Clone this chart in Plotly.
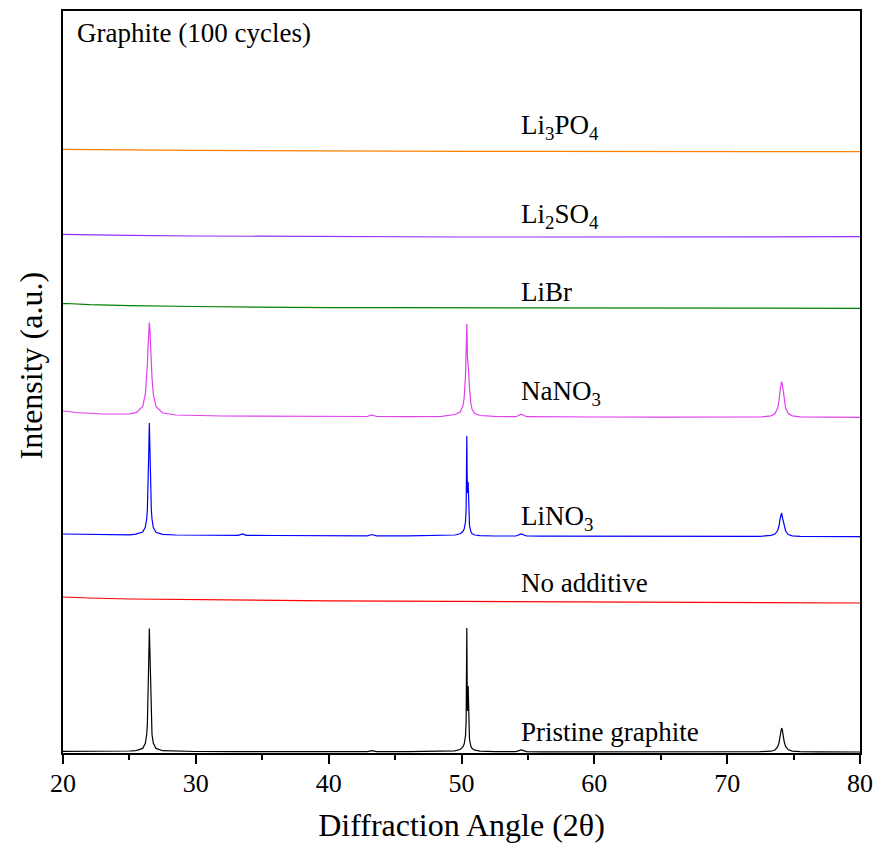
import plotly.graph_objects as go

# ---- XRD patterns of graphite electrodes after 100 cycles (stacked, a.u.) ----

# Pristine graphite
pristine_2theta = [20, 22, 24, 25.0, 25.5, 26.0, 26.2, 26.3, 26.35, 26.4, 26.45, 26.5, 26.55, 26.6,
                   26.65, 26.7, 26.8, 27.0, 27.5, 28.5, 30, 33, 36, 40, 42.9, 43.25, 43.6, 46, 48.5,
                   49.5, 49.9, 50.1, 50.2, 50.3, 50.35, 50.38, 50.4, 50.42, 50.45, 50.48, 50.5, 50.52,
                   50.55, 50.6, 50.7, 50.8, 51.0, 51.4, 52.5, 54.1, 54.5, 54.9, 56, 60, 65, 70, 72.5,
                   73.3, 73.6, 73.8, 73.9, 74.0, 74.05, 74.1, 74.15, 74.2, 74.3, 74.4, 74.6, 74.9,
                   75.5, 77, 80]
pristine_int = [1.6, 1.6, 1.7, 2.0, 2.4, 4.6, 9.7, 18.5, 28.5, 49.5, 89.5, 124.5, 89.5, 49.5,
                28.5, 18.5, 9.7, 4.6, 2.3, 1.7, 1.5, 1.4, 1.3, 1.3, 1.3, 2.3, 1.3, 1.3, 1.5,
                2.2, 3.5, 6.0, 9.0, 17, 32, 70, 125, 78, 42, 48, 67, 50,
                28, 14, 7.0, 4.5, 2.8, 1.9, 1.4, 1.4, 3.0, 1.4, 1.2, 1.1, 1.1, 1.1, 1.4,
                1.8, 3.0, 6.0, 10, 18, 23, 25, 23, 18, 11, 6.5, 3.2, 1.9,
                1.3, 1.1, 1.0]

# LiNO3 additive
lino3_2theta = [20, 22, 24, 25.0, 25.5, 26.0, 26.2, 26.3, 26.35, 26.4, 26.45, 26.5, 26.55, 26.6,
                26.65, 26.7, 26.8, 27.0, 27.5, 28.5, 30, 33.2, 33.5, 33.8, 36, 40, 42.9, 43.25,
                43.6, 46, 48.5, 49.5, 49.9, 50.1, 50.2, 50.3, 50.35, 50.38, 50.4, 50.42, 50.45,
                50.48, 50.5, 50.52, 50.55, 50.6, 50.7, 50.8, 51.0, 51.4, 52.5, 54.1, 54.5, 54.9,
                56, 60, 65, 70, 72.5, 73.3, 73.6, 73.8, 73.9, 74.0, 74.05, 74.1, 74.15, 74.2,
                74.25, 74.3, 74.4, 74.6, 74.9, 75.5, 77, 80]
lino3_int = [4.0, 3.6, 3.3, 3.2, 3.9, 6.0, 11, 19, 28, 47, 82, 115, 82, 47,
             28, 19, 10.5, 5.8, 3.7, 3.0, 2.8, 2.6, 4.0, 2.6, 2.5, 2.3, 2.2, 3.5,
             2.2, 2.1, 2.4, 3.0, 4.2, 6.5, 9.0, 16, 30, 60, 102, 70, 45,
             48, 56, 44, 26, 13, 6.5, 4.3, 3.0, 2.3, 2.0, 2.0, 4.0, 2.0,
             1.8, 1.6, 1.5, 1.4, 1.7, 2.6, 4.0, 7.5, 12, 20, 23.5, 25, 21, 18,
             17, 13, 7.0, 3.4, 2.1, 1.6, 1.4, 1.3]

# NaNO3 additive
nano3_2theta = [20, 21, 23, 25.0, 25.5, 26.0, 26.2, 26.3, 26.35, 26.4, 26.45, 26.5, 26.55, 26.6,
                26.65, 26.7, 26.8, 27.0, 27.5, 28.5, 32, 36, 40, 42.9, 43.25, 43.6, 46, 48.5,
                49.5, 49.9, 50.1, 50.2, 50.3, 50.35, 50.38, 50.4, 50.42, 50.45, 50.48, 50.5, 50.52,
                50.55, 50.6, 50.7, 50.8, 51.0, 51.4, 52.5, 54.1, 54.5, 54.9, 56, 60, 65, 70, 72.5,
                73.3, 73.6, 73.8, 73.9, 74.0, 74.05, 74.1, 74.15, 74.2, 74.25, 74.3, 74.4, 74.6,
                74.9, 75.5, 77, 80]
nano3_int = [7.0, 5.5, 4.0, 4.1, 5.3, 11.6, 24, 40, 53, 70, 87, 95.5, 87, 70,
             53, 40, 24, 11.5, 5.0, 3.0, 2.0, 1.8, 1.6, 1.5, 3.0, 1.5, 1.4, 1.6,
             3.5, 6.0, 12, 20, 42, 62, 80, 94, 82, 60, 49, 53, 52,
             44, 30, 15, 8.5, 4.5, 2.5, 1.6, 1.3, 3.8, 1.3, 1.1, 1.0, 0.9, 0.8, 1.0,
             2.2, 4.5, 10, 17, 29, 34, 36.3, 34, 29, 24, 18, 10, 4.5,
             2.2, 1.2, 0.8, 0.7]

# Featureless patterns (no additive, LiBr, Li2SO4, Li3PO4)
flat_2theta = [20, 20.3, 22, 25, 30, 35, 40, 45, 50, 55, 60, 70, 80]
no_additive_int = [8.0, 7.8, 7.0, 6.0, 5.2, 4.6, 4.2, 3.9, 3.6, 3.2, 2.9, 2.4, 2.0]
libr_int = [6.3, 6.5, 5.3, 4.3, 3.5, 2.8, 2.3, 2.3, 2.3, 2.2, 2.1, 1.9, 1.7]
li2so4_int = [3.7, 3.6, 3.2, 2.6, 2.0, 1.6, 1.3, 1.1, 1.0, 1.0, 1.1, 1.2, 1.3]
li3po4_int = [3.7, 3.7, 3.5, 3.1, 2.6, 2.2, 2.0, 1.8, 1.7, 1.6, 1.5, 1.4, 1.3]

# Sample names (bottom to top), vertical stacking offsets and colours
samples = ["Pristine graphite", "No additive", "LiNO<sub>3</sub>", "NaNO<sub>3</sub>",
           "LiBr", "Li<sub>2</sub>SO<sub>4</sub>", "Li<sub>3</sub>PO<sub>4</sub>"]
offsets = [0, 148, 215, 335, 443, 515, 600]
label_heights = [21, 170, 235, 360, 461, 537, 626]
colors = ["#000000", "#ff0000", "#0000ff", "#e040f0", "#008000", "#9030ff", "#ff8000"]

patterns = [
    (pristine_2theta, pristine_int),
    (flat_2theta, no_additive_int),
    (lino3_2theta, lino3_int),
    (nano3_2theta, nano3_int),
    (flat_2theta, libr_int),
    (flat_2theta, li2so4_int),
    (flat_2theta, li3po4_int),
]

FONT = "Liberation Serif"

fig = go.Figure()
for (tt, inten), off, col, name in zip(patterns, offsets, colors, samples):
    fig.add_trace(go.Scatter(
        x=tt, y=[v + off for v in inten], mode="lines",
        line=dict(color=col, width=1.2), name=name, showlegend=False,
    ))

annotations = [dict(x=20.9, y=720, xref="x", yref="y", text="Graphite (100 cycles)",
                    showarrow=False, xanchor="left", yanchor="middle",
                    font=dict(family=FONT, size=27, color="black"))]
for name, h in zip(samples, label_heights):
    annotations.append(dict(x=54.3, y=h, xref="x", yref="y", text=name, showarrow=False,
                            xanchor="left", yanchor="middle",
                            font=dict(family=FONT, size=27, color="black")))
# vertical axis title
annotations.append(dict(x=-0.0405, y=0.522, xref="paper", yref="paper",
                        text="Intensity (a.u.)", textangle=-90, showarrow=False,
                        xanchor="center", yanchor="middle",
                        font=dict(family=FONT, size=32, color="black")))

fig.update_layout(
    width=876, height=843,
    margin=dict(l=63, r=16, t=11, b=90, autoexpand=False),
    paper_bgcolor="white", plot_bgcolor="white",
    font=dict(family=FONT, color="black"),
    annotations=annotations,
    xaxis=dict(
        range=[20, 80], dtick=10, tick0=20, automargin=False,
        showline=True, mirror=True, linecolor="black", linewidth=1.5,
        ticks="outside", ticklen=9, tickwidth=1.5, tickcolor="black",
        ticklabelstandoff=-3,
        minor=dict(dtick=5, ticks="outside", ticklen=5, tickwidth=1.5, tickcolor="black"),
        showgrid=False, zeroline=False,
        tickfont=dict(family=FONT, size=26, color="black"),
        title=dict(text="Diffraction Angle (2θ)", font=dict(family=FONT, size=32, color="black"),
                   standoff=18),
    ),
    yaxis=dict(
        range=[0, 742], showticklabels=False, ticks="", automargin=False,
        showline=True, mirror=True, linecolor="black", linewidth=1.5,
        showgrid=False, zeroline=False,
    ),
)

fig.write_html("out.html")
